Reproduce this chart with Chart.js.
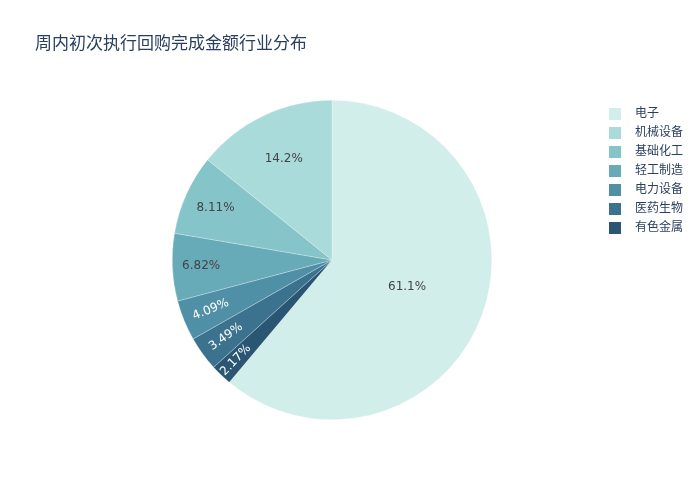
<!DOCTYPE html>
<html>
<head>
<meta charset="utf-8">
<script src="https://cdn.jsdelivr.net/npm/chart.js@4/dist/chart.umd.min.js"></script>
<style>
  body { margin: 0; background: #fff; }
  canvas { display: block; }
</style>
</head>
<body>
<canvas id="myCanvas" width="700" height="500"></canvas>
<script>
let canvas = document.getElementById("myCanvas");

// legend order
const categories = ["电子", "机械设备", "基础化工", "轻工制造", "电力设备", "医药生物", "有色金属"];
const shares = [61.1, 14.2, 8.11, 6.82, 4.09, 3.49, 2.17];
const shareText = ["61.1%", "14.2%", "8.11%", "6.82%", "4.09%", "3.49%", "2.17%"];
const colors = [
  "rgb(209, 238, 234)",
  "rgb(168, 219, 217)",
  "rgb(133, 196, 201)",
  "rgb(104, 171, 184)",
  "rgb(79, 144, 166)",
  "rgb(59, 115, 143)",
  "rgb(42, 86, 116)",
];
// slices go clockwise from 12 o'clock in this order
const drawOrder = [0, 6, 5, 4, 3, 2, 1];

const titleText = "周内初次执行回购完成金额行业分布";
const textColor = "#2a3f5f";

const pieLabels = {
  id: "pieLabels",
  afterDatasetsDraw(chart) {
    const ctx = chart.ctx;
    const meta = chart.getDatasetMeta(0);
    meta.data.forEach((arc, i) => {
      const k = drawOrder[i];
      const v = shares[k];
      const mid = (arc.startAngle + arc.endAngle) / 2;
      let frac = 0.82;
      if (v > 50) frac = 0.5;
      else if (v > 10) frac = 0.7;
      else if (v > 7) frac = 0.8;
      else if (v < 3) frac = 0.87;
      const r = arc.outerRadius * frac;
      const x = arc.x + Math.cos(mid) * r;
      const y = arc.y + Math.sin(mid) * r;
      ctx.save();
      ctx.translate(x, y);
      if (v < 5) {
        let a = mid;
        if (Math.cos(a) < 0) a += Math.PI;
        ctx.rotate(a);
      }
      ctx.font = "12px 'DejaVu Sans', sans-serif";
      ctx.textAlign = "center";
      ctx.textBaseline = "middle";
      ctx.fillStyle = k >= 4 ? "#ffffff" : "#444444";
      ctx.fillText(shareText[k], 0, 0);
      ctx.restore();
    });
  },
  afterDraw(chart) {
    const ctx = chart.ctx;
    ctx.save();
    ctx.font = "17px 'Open Sans', 'Noto Sans CJK SC', sans-serif";
    ctx.fillStyle = textColor;
    ctx.textAlign = "left";
    ctx.textBaseline = "middle";
    ctx.fillText(titleText, 35, 44);

    ctx.font = "12px 'Open Sans', 'Noto Sans CJK SC', sans-serif";
    categories.forEach((c, i) => {
      const y = 114 + i * 19;
      ctx.fillStyle = colors[i];
      ctx.fillRect(609, y - 6, 12, 12);
      ctx.fillStyle = textColor;
      ctx.fillText(c, 635, y);
    });
    ctx.restore();
  },
};

window.chart = new Chart(canvas, {
  type: "pie",
  data: {
    labels: drawOrder.map((k) => categories[k]),
    datasets: [
      {
        data: drawOrder.map((k) => shares[k]),
        backgroundColor: drawOrder.map((k) => colors[k]),
        borderColor: "rgba(255,255,255,0.5)",
        borderWidth: 0.5,
      },
    ],
  },
  options: {
    responsive: false,
    animation: false,
    events: [],
    rotation: 0,
    layout: {
      padding: { left: 172, right: 208, top: 100, bottom: 80 },
    },
    plugins: {
      legend: { display: false },
      title: { display: false },
      tooltip: { enabled: false },
    },
  },
  plugins: [pieLabels],
});
</script>
</body>
</html>
